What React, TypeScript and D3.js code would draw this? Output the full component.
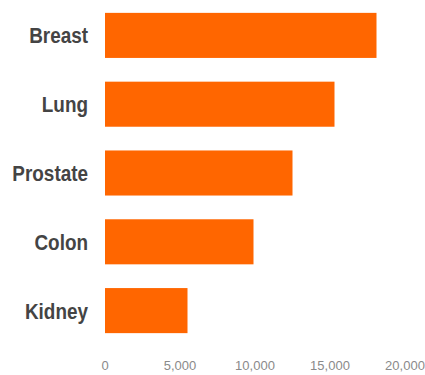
import React from "react";
import * as d3 from "d3";

const categories = ["Breast", "Lung", "Prostate", "Colon", "Kidney"];
const values = [18100, 15300, 12500, 9900, 5500];
const tickValues = [0, 5000, 10000, 15000, 20000];

const W = 425;
const H = 375;

export default function App() {
  const x = d3.scaleLinear().domain([0, 20000]).range([105, 405]);
  const y = d3
    .scaleBand<string>()
    .domain(categories)
    .range([1, 345])
    .paddingInner(0.345)
    .paddingOuter(0.1725);
  const fmt = d3.format(",");

  return (
    <svg
      width={W}
      height={H}
      style={{ position: "fixed", left: 0, top: 0, background: "#fff" }}
    >
      {categories.map((c, i) => (
        <g key={c}>
          <rect
            x={x(0)}
            y={y(c)}
            width={x(values[i]) - x(0)}
            height={y.bandwidth()}
            fill="#ff6600"
          />
          {/* condensed category label */}
          <text
            transform={`translate(88,${(y(c) as number) + y.bandwidth() / 2}) scale(0.86,1)`}
            textAnchor="end"
            dominantBaseline="central"
            fontFamily="'Liberation Sans', Arial, sans-serif"
            fontWeight="bold"
            fontSize={22}
            fill="#444"
          >
            {c}
          </text>
        </g>
      ))}
      {tickValues.map((t) => (
        <text
          key={t}
          x={x(t)}
          y={370}
          textAnchor="middle"
          fontFamily="'Liberation Sans', Arial, sans-serif"
          fontSize={13}
          fill="#8a8a8a"
        >
          {fmt(t)}
        </text>
      ))}
    </svg>
  );
}
